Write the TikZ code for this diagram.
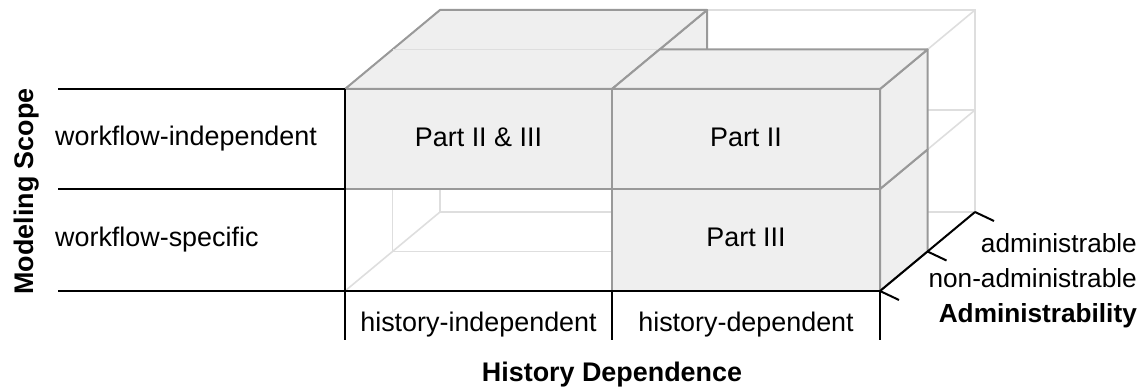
\documentclass[tikz,border=0pt]{standalone}
\usepackage{fontspec}
\setmainfont{Liberation Sans}
\definecolor{facegray}{HTML}{EFEFEF}
\definecolor{edgegray}{HTML}{999999}
\definecolor{wiregray}{HTML}{DEDEDE}
\begin{document}
\begin{tikzpicture}[x=1pt,y=-1pt,
  axisline/.style={line width=2pt,draw=black},
  wire/.style={line width=1.6pt,draw=wiregray},
  cubeface/.style={line width=2pt,draw=edgegray,fill=facegray,line join=round},
  txt/.style={inner sep=0pt,font=\fontsize{26.9}{30}\selectfont},
  bold/.style={inner sep=0pt,font=\fontsize{26.9}{30}\selectfont\bfseries},
  sidetxt/.style={inner sep=0pt,anchor=base east,font=\fontsize{26.2}{30}\selectfont}]
\useasboundingbox (0,0) rectangle (1148,390);

% light wireframe of the 2x2x2 grid: back plane, middle plane, depth lines
\foreach \dx/\dy in {47.5/-39.5,95/-79}{
  \draw[wire] (345+\dx,89+\dy) rectangle (880+\dx,291+\dy);
  \draw[wire] (345+\dx,189+\dy) -- (880+\dx,189+\dy);
  \draw[wire] (612+\dx,89+\dy) -- (612+\dx,291+\dy);
}
\foreach \px in {345,612,880}{
  \foreach \py in {89,189,291}{
    \draw[wire] (\px,\py) -- ++(95,-79);
  }
}

% block spanning both depth layers
\draw[cubeface] (612,89) -- (707,10) -- (707,110) -- (612,189) -- cycle;
\draw[cubeface] (345,89) -- (440,10) -- (707,10) -- (612,89) -- cycle;
\draw[cubeface] (345,89) rectangle (612,189);
\draw[wire] (392.5,49.5) -- (659.5,49.5);

% lower front block
\draw[cubeface] (880,189) -- (927.5,149.5) -- (927.5,251.5) -- (880,291) -- cycle;
\draw[cubeface] (612,189) rectangle (880,291);

% upper front block
\draw[cubeface] (880,89) -- (927.5,49.5) -- (927.5,149.5) -- (880,189) -- cycle;
\draw[cubeface] (612,89) -- (659.5,49.5) -- (927.5,49.5) -- (880,89) -- cycle;
\draw[cubeface] (612,89) rectangle (880,189);

% axes
\coordinate (o) at (345,291);
\coordinate (s0) at (58,291);
\coordinate (s1) at (58,189);
\coordinate (s2) at (58,89);
\coordinate (c1) at (345,189);
\coordinate (c2) at (345,89);
\coordinate (h0) at (345,340);
\coordinate (hm) at (612,291);
\coordinate (hm0) at (612,340);
\coordinate (a0) at (880,291);
\coordinate (a0b) at (880,340);
\coordinate (a1) at (927.5,251.5);
\coordinate (a2) at (975,212);

\draw[axisline] (s0) -- (a0);
\draw[axisline] (s1) -- (c1);
\draw[axisline] (s2) -- (c2);
\draw[axisline] (c2) -- (h0);
\draw[axisline] (hm) -- (hm0);
\draw[axisline] (a0) -- (a0b);
\draw[axisline] (a0) -- (a2);
\foreach \t in {a0,a1,a2}{
  \draw[axisline] (\t) -- ++(19,9);
}

% labels
\node[txt,anchor=base west] (wfi) at (55,146) {workflow-independent};
\node[txt,anchor=base west] (wfs) at (55,246) {workflow-specific};
\node[bold,anchor=base,rotate=90] (ms) at (33,191.5) {Modeling Scope};

\node[txt,anchor=base] (p23) at (478.5,146.5) {Part II \& III};
\node[txt,anchor=base] (p2) at (746,146.5) {Part II};
\node[txt,anchor=base] (p3) at (746,246.5) {Part III};

\node[txt,anchor=base] (hi) at (478.5,331) {history-independent};
\node[txt,anchor=base] (hd) at (746,331) {history-dependent};
\node[bold,anchor=base] (hdep) at (612,381) {History Dependence};

\node[sidetxt] (adm) at (1137,252) {administrable};
\node[sidetxt] (nadm) at (1137,287) {non-administrable};
\node[sidetxt,font=\fontsize{26.2}{30}\selectfont\bfseries] (admty) at (1137,322) {Administrability};
\end{tikzpicture}
\end{document}
